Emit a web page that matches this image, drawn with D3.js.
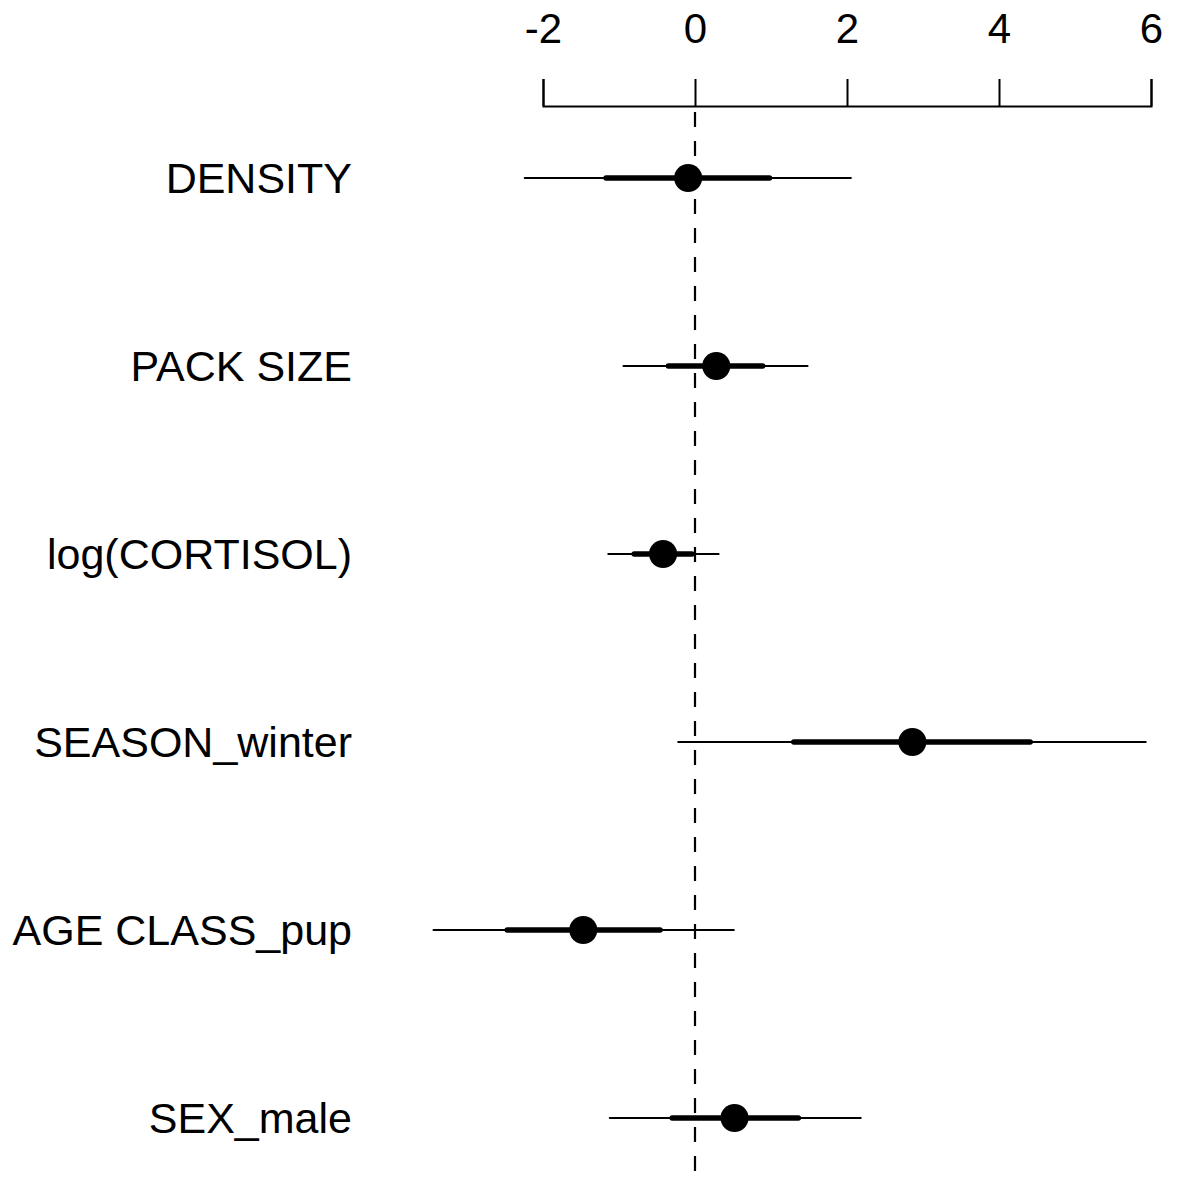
<!DOCTYPE html>
<html>
<head>
<meta charset="utf-8">
<script src="https://cdn.jsdelivr.net/npm/d3@7"></script>
<style>
  html, body { margin: 0; padding: 0; background: #fff; }
  svg { display: block; }
  text { font-family: "Liberation Sans", Arial, sans-serif; fill: #000; }
</style>
</head>
<body>
<svg id="chart" width="1178" height="1185"></svg>
<script>
// ---- data ----
const categories = ["DENSITY", "PACK SIZE", "log(CORTISOL)", "SEASON_winter", "AGE CLASS_pup", "SEX_male"];
const estimate   = [-0.09, 0.28, -0.42, 2.86, -1.47, 0.52];
const innerLow   = [-1.17, -0.35, -0.80, 1.30, -2.47, -0.30];
const innerHigh  = [ 0.98,  0.89, -0.04, 4.41, -0.46, 1.36];
const outerLow   = [-2.24, -0.94, -1.14, -0.22, -3.44, -1.12];
const outerHigh  = [ 2.05,  1.48,  0.31, 5.93,  0.51, 2.18];
const tickValues = [-2, 0, 2, 4, 6];

const rows = categories.map((c, i) => ({
  name: c, est: estimate[i], lo: innerLow[i], hi: innerHigh[i], olo: outerLow[i], ohi: outerHigh[i]
}));

const svg = d3.select("#chart");
const x = d3.scaleLinear().domain([-2, 6]).range([543, 1151]);
const y = d3.scalePoint().domain(categories).range([178, 1118]);
const axisY = 106;

// zero reference line (dashed)
svg.append("line")
  .attr("x1", x(0)).attr("x2", x(0))
  .attr("y1", 112).attr("y2", 1185)
  .attr("stroke", "#000").attr("stroke-width", 2.2)
  .attr("stroke-dasharray", "15,14");

// top axis
const axis = d3.axisTop(x).tickValues(tickValues).tickFormat(d3.format("d"))
  .tickSize(27).tickSizeOuter(27).tickPadding(36);
const gAxis = svg.append("g").attr("transform", `translate(0,${axisY})`).call(axis);
gAxis.selectAll("path, line").attr("stroke", "#000").attr("stroke-width", 2);
gAxis.selectAll("text")
  .attr("font-family", "'Liberation Sans', Arial, sans-serif")
  .attr("font-size", 42).attr("fill", "#000")
  .text(d => d < 0 ? "-" + Math.abs(d) : d);

// rows
const g = svg.append("g");
g.selectAll("line.outer").data(rows).join("line")
  .attr("class", "outer")
  .attr("x1", d => x(d.olo)).attr("x2", d => x(d.ohi))
  .attr("y1", d => y(d.name)).attr("y2", d => y(d.name))
  .attr("stroke", "#000").attr("stroke-width", 2.2).attr("stroke-linecap", "round");

g.selectAll("line.inner").data(rows).join("line")
  .attr("class", "inner")
  .attr("x1", d => x(d.lo)).attr("x2", d => x(d.hi))
  .attr("y1", d => y(d.name)).attr("y2", d => y(d.name))
  .attr("stroke", "#000").attr("stroke-width", 5.5).attr("stroke-linecap", "round");

g.selectAll("circle").data(rows).join("circle")
  .attr("cx", d => x(d.est)).attr("cy", d => y(d.name)).attr("r", 14)
  .attr("fill", "#000");

// labels
svg.append("g").selectAll("text").data(rows).join("text")
  .attr("x", 352).attr("y", d => y(d.name) + 15)
  .attr("text-anchor", "end")
  .attr("font-size", 43)
  .text(d => d.name);
</script>
</body>
</html>
